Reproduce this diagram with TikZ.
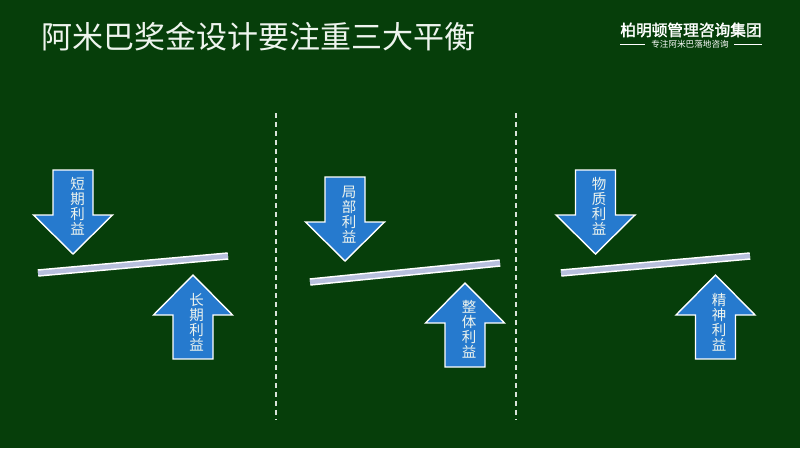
\documentclass[tikz,border=0pt]{standalone}
\usepackage{fontspec}
\newfontfamily\cjk{Noto Sans CJK SC}
\newfontfamily\cjkbold{Noto Sans CJK SC}[FakeBold=2]
\definecolor{bggreen}{RGB}{6,62,10}
\definecolor{arrowblue}{RGB}{38,122,206}
\definecolor{barfill}{RGB}{184,192,222}
\definecolor{textwhite}{RGB}{238,244,238}
\tikzset{
  arrowbox/.style={fill=arrowblue, draw=white, line width=1.4pt, line join=miter},
  downarrow/.pic={\draw[arrowbox] (-20,0) -- (20,0) -- (20,45) -- (39.5,45) -- (0,84) -- (-39.5,45) -- (-20,45) -- cycle;},
  uparrow/.pic={\draw[arrowbox] (0,0) -- (39.5,40) -- (20,40) -- (20,84) -- (-20,84) -- (-20,40) -- (-39.5,40) -- cycle;},
  arrowlabel/.style={text=textwhite, font=\cjk\fontsize{14.5}{15}\selectfont, align=center, inner sep=0pt},
  barouter/.style={draw=white, line width=7.5pt},
  barinner/.style={draw=barfill, line width=4.5pt},
  divider/.style={draw=white!85!bggreen, line width=1.5pt, dash pattern=on 5pt off 4pt},
}
\begin{document}
\begin{tikzpicture}[x=1pt,y=-1pt]
\useasboundingbox (0,0) rectangle (800,448);
\fill[bggreen] (0,0) rectangle (800,448);

% title
\node[anchor=west, inner sep=0pt, text=textwhite, font=\cjk\fontsize{31}{31}\selectfont] (title) at (41,37) {阿米巴奖金设计要注重三大平衡};
\node[inner sep=0pt, text=white, font=\cjkbold\fontsize{15.7}{16}\selectfont] (company) at (691,30) {柏明顿管理咨询集团};
\node[inner sep=0pt, text=white, font=\cjk\fontsize{8.6}{9}\selectfont] (tagline) at (690,44.5) {专注阿米巴落地咨询};
\coordinate (tl1) at (620,44.5); \coordinate (tl2) at (645,44.5);
\coordinate (tr1) at (734,44.5); \coordinate (tr2) at (762,44.5);
\draw[white, line width=0.8pt] (tl1) -- (tl2);
\draw[white, line width=0.8pt] (tr1) -- (tr2);

% dividers
\coordinate (d1t) at (276,113); \coordinate (d1b) at (276,420);
\coordinate (d2t) at (516,113); \coordinate (d2b) at (516,420);
\draw[divider] (d1t) -- (d1b);
\draw[divider] (d2t) -- (d2b);

% panel 1
\coordinate (b1a) at (38,273); \coordinate (b1b) at (228,256);
\draw[barouter] (b1a) -- (b1b);
\draw[barinner] (b1a) -- (b1b);
\pic at (73,170) {downarrow};
\pic at (193,275) {uparrow};
\node[arrowlabel] (l1a) at (77.5,206.5) {短\\期\\利\\益};
\node[arrowlabel] (l1b) at (196.5,322) {长\\期\\利\\益};

% panel 2
\coordinate (b2a) at (310,282); \coordinate (b2b) at (500,263);
\draw[barouter] (b2a) -- (b2b);
\draw[barinner] (b2a) -- (b2b);
\pic at (345,177) {downarrow};
\pic at (465,283) {uparrow};
\node[arrowlabel] (l2a) at (349,214.5) {局\\部\\利\\益};
\node[arrowlabel] (l2b) at (469,329) {整\\体\\利\\益};

% panel 3
\coordinate (b3a) at (561,273); \coordinate (b3b) at (750,256);
\draw[barouter] (b3a) -- (b3b);
\draw[barinner] (b3a) -- (b3b);
\pic at (595.5,170) {downarrow};
\pic at (715.5,275) {uparrow};
\node[arrowlabel] (l3a) at (599,206.5) {物\\质\\利\\益};
\node[arrowlabel] (l3b) at (719,322) {精\\神\\利\\益};
\end{tikzpicture}
\end{document}
